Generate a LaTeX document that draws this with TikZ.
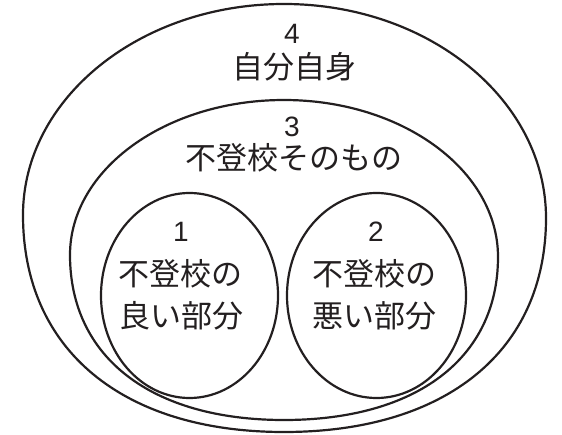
\documentclass[tikz,border=0pt]{standalone}
\usepackage{fontspec}
\newfontfamily\jpfont{Noto Sans CJK JP}
\newfontfamily\numfont{Liberation Sans}
\usetikzlibrary{shapes.geometric}
\definecolor{ink}{HTML}{231F20}
\begin{document}
\begin{tikzpicture}[x=1pt,y=-1pt,
  ringline/.style={draw=ink, line width=2.2pt},
  ring/.style={ringline, ellipse, inner sep=0pt},
  jplbl/.style={font=\jpfont\fontsize{31}{37}\selectfont, text=ink, inner sep=0pt},
  numlbl/.style={font=\numfont\fontsize{28}{33}\selectfont, text=ink, inner sep=0pt}]
\useasboundingbox (0,0) rectangle (562,435);
% outer region (4)
\draw[ringline] (546,218) .. controls (546,350.7) and (446.4,432) .. (284,432)
  .. controls (122.2,432) and (23,349.5) .. (23,215)
  .. controls (23,98.5) and (139.9,4) .. (284,4)
  .. controls (428.7,4) and (546,99.8) .. cycle;
% middle region (3)
\draw[ringline] (498,257) .. controls (498,358) and (416.7,420) .. (284,420)
  .. controls (151.3,420) and (70,357.3) .. (70,255)
  .. controls (70,169.4) and (165.8,100) .. (284,100)
  .. controls (402.2,100) and (498,170.3) .. cycle;
\node[ring, minimum width=177pt, minimum height=205pt] (good) at (189.5,295.5) {};
\node[ring, minimum width=179pt, minimum height=205pt] (bad) at (376.5,295.5) {};
\node[numlbl] (n4) at (292,34) {4};
\node[jplbl] (t4) at (294,67) {自分自身};
\node[numlbl] (n3) at (292,127) {3};
\node[jplbl] (t3) at (294,158) {不登校そのもの};
\node[numlbl] (n1) at (181,232) {1};
\node[jplbl] (t1a) at (180,274) {不登校の};
\node[jplbl] (t1b) at (181,316) {良い部分};
\node[numlbl] (n2) at (376,232) {2};
\node[jplbl] (t2a) at (374,274) {不登校の};
\node[jplbl] (t2b) at (374.5,316) {悪い部分};
\end{tikzpicture}
\end{document}
